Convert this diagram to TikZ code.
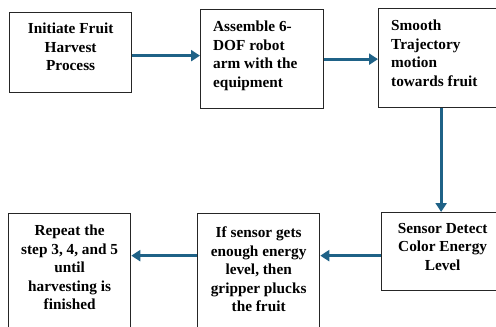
\documentclass[tikz,border=0pt]{standalone}
\usepackage{fontspec}
\setmainfont{Liberation Serif}
\usetikzlibrary{positioning, arrows.meta}
\definecolor{flowblue}{RGB}{31,98,135}

\begin{document}
\begin{tikzpicture}[x=1pt, y=-1pt,
    box/.style={draw=black!85, line width=1.3pt, inner sep=0pt, anchor=north west},
    txt/.style={inner sep=0pt, font=\fontsize{15.3}{18.4}\selectfont\bfseries},
    flow/.style={draw=flowblue, line width=3pt, -{Triangle[length=9pt,width=11pt]}}]
		\useasboundingbox (0,0) rectangle (496,327);
		\fill[white] (0,0) rectangle (496,327);
		
		% boxes
		\node[box, minimum width=122pt, minimum height=80pt] (b1) at (9,12) {};
		\node[box, minimum width=123pt, minimum height=99pt] (b2) at (200,9) {};
		\node[box, minimum width=125pt, minimum height=99pt] (b3) at (378,8) {};
		\node[box, minimum width=122pt, minimum height=78pt] (b4) at (381,212) {};
		\node[box, minimum width=122pt, minimum height=130pt] (b5) at (197,213) {};
		\node[box, minimum width=122pt, minimum height=130pt] (b6) at (8,213) {};
		
		% texts
		\node[txt, align=center, below=11pt of b1.north] (t1) {Initiate Fruit\\Harvest\\Process};
		\node[txt, align=left, below right=12pt and 13pt of b2.north west] (t2) {Assemble 6-\\DOF robot\\arm with the\\equipment};
		\node[txt, align=left, below right=12pt and 13pt of b3.north west] (t3) {Smooth\\Trajectory\\motion\\towards fruit};
		\node[txt, align=center, below=11pt of b4.north] (t4) {Sensor Detect\\Color Energy\\Level};
		\node[txt, align=center, below=14pt of b5.north] (t5) {If sensor gets\\enough energy\\level, then\\gripper plucks\\the fruit};
		\node[txt, align=center, below=12pt of b6.north] (t6) {Repeat the\\step 3, 4, and 5\\until\\harvesting is\\finished};
		
		% arrows
		\draw[flow] ([yshift=-3pt]b1.east) -- ([yshift=-3pt]b1.east -| b2.west);
		\draw[flow] (b2.east) -- (b2.east -| b3.west);
		\draw[flow] (b3.south) -- (b3.south |- b4.north);
		\draw[flow] ([yshift=-4pt]b4.west) -- ([yshift=-4pt]b4.west -| b5.east);
		\draw[flow] ([yshift=-4pt]b4.west -| b5.west) -- ([yshift=-4pt]b4.west -| b6.east);
	\end{tikzpicture}
\end{document}
